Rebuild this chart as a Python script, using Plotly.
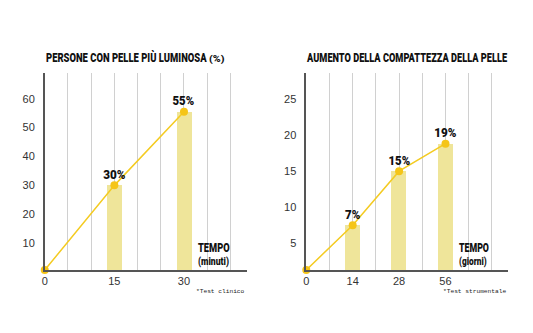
import json
import plotly.graph_objects as go

# ---- data ----
left_title = "PERSONE CON PELLE PIÙ LUMINOSA"
left_unit = "(%)"
left_minutes = [0, 15, 30]
left_values = [0.7, 30, 55.5]
left_labels = ["", "30%", "55%"]
left_xlabel = ["TEMPO", "(minuti)"]
left_note = "*Test clinico"

right_title = "AUMENTO DELLA COMPATTEZZA DELLA PELLE"
right_days = ["0", "14", "28", "56"]
right_values = [1.3, 7.5, 15, 18.8]
right_labels = ["", "7%", "15%", "19%"]
right_xlabel = ["TEMPO", "(giorni)"]
right_note = "*Test strumentale"

left_yticks = [10, 20, 30, 40, 50, 60]
right_yticks = [5, 10, 15, 20, 25]

# ---- style ----
BAR = "#EFE59A"
LINE = "#F4CB22"
MARK = "#F5C518"
AX = "#555555"
GRID = "#D0D0D0"
COND = "Roboto, Liberation Sans, sans-serif"
TICKF = dict(family="Liberation Sans, Arial, sans-serif", size=11, color="#333333")

W, H = 533, 333
def px_x(p): return p / W
def px_y(p): return (H - p) / H

fig = go.Figure()

# left chart
bar_idx_l = [i for i, l in enumerate(left_labels) if l]
fig.add_trace(go.Bar(x=[left_minutes[i] for i in bar_idx_l], y=[left_values[i] for i in bar_idx_l],
                     width=3.15, marker=dict(color=BAR, line=dict(width=0)),
                     xaxis="x", yaxis="y", hoverinfo="skip"))
fig.add_trace(go.Scatter(x=left_minutes, y=left_values, mode="lines+markers",
                         line=dict(color=LINE, width=1.5), marker=dict(color=MARK, size=8),
                         cliponaxis=False, xaxis="x", yaxis="y"))

# right chart (equally spaced categories)
right_pos = list(range(len(right_days)))
bar_idx_r = [i for i, l in enumerate(right_labels) if l]
fig.add_trace(go.Bar(x=[right_pos[i] for i in bar_idx_r], y=[right_values[i] for i in bar_idx_r],
                     width=0.32, marker=dict(color=BAR, line=dict(width=0)),
                     xaxis="x2", yaxis="y2", hoverinfo="skip"))
fig.add_trace(go.Scatter(x=right_pos, y=right_values, mode="lines+markers",
                         line=dict(color=LINE, width=1.5), marker=dict(color=MARK, size=8),
                         cliponaxis=False, xaxis="x2", yaxis="y2"))

ydom = [px_y(270), px_y(73)]
common_x = dict(showline=True, linecolor=AX, linewidth=1.5, showgrid=True, gridcolor=GRID,
                gridwidth=1, zeroline=False, ticks="", tickfont=TICKF, fixedrange=True)
common_y = dict(showline=True, linecolor=AX, linewidth=1.5, showgrid=False, zeroline=False,
                ticks="", tickfont=TICKF, ticklabelstandoff=6)

fig.update_layout(
    width=W, height=H, margin=dict(l=0, r=0, t=0, b=0),
    paper_bgcolor="white", plot_bgcolor="white", showlegend=False, bargap=0,
    xaxis=dict(domain=[px_x(42), px_x(245)], range=[0, 43.5],
               tickvals=left_minutes, ticktext=[str(m) for m in left_minutes],
               minor=dict(dtick=5, showgrid=True, gridcolor=GRID, gridwidth=1, ticks=""),
               anchor="y", **common_x),
    yaxis=dict(domain=ydom, range=[0.7, 68.9], tickvals=left_yticks, anchor="x", **common_y),
    xaxis2=dict(domain=[px_x(305), px_x(508)], range=[0, 4.35],
                tickvals=right_pos, ticktext=right_days,
                minor=dict(dtick=0.5, showgrid=True, gridcolor=GRID, gridwidth=1, ticks=""),
                anchor="y2", **common_x),
    yaxis2=dict(domain=ydom, range=[1.3, 28.6], tickvals=right_yticks, anchor="x2", **common_y),
)

ann = []
squeeze = {}  # annotation index -> target text width (px), for a condensed look

def add(a, width=None):
    if width is not None:
        squeeze[len(ann)] = width
    ann.append(a)

BOLD = dict(family=COND, color="#111", weight=900)
# value labels
for xs, ys, labs, xr, yr, ws in [
        (left_minutes, left_values, left_labels, "x", "y", [0, 22.3, 21.7]),
        (right_pos, right_values, right_labels, "x2", "y2", [0, 15.3, 21.7, 22.3])]:
    for i, l in enumerate(labs):
        if l:
            add(dict(x=xs[i], y=ys[i], xref=xr, yref=yr, text=l, showarrow=False, yshift=11,
                     font=dict(size=13, **BOLD)), ws[i])
# titles
add(dict(x=px_x(41), y=px_y(57), xref="paper", yref="paper", xanchor="left", yanchor="middle",
         align="left", text=left_title, showarrow=False, font=dict(size=13.2, **BOLD)), 160.5)
add(dict(x=px_x(205.5), y=px_y(59), xref="paper", yref="paper", xanchor="left", yanchor="middle",
         align="left", text=left_unit, showarrow=False, font=dict(size=9.8, **BOLD)), 15.5)
add(dict(x=px_x(303), y=px_y(57), xref="paper", yref="paper", xanchor="left", yanchor="middle",
         align="left", text=right_title, showarrow=False, font=dict(size=13.2, **BOLD)), 200)
# axis captions
for x0, lab, ws in [(194, left_xlabel, (31.7, 31)), (457, right_xlabel, (30, 27.7))]:
    add(dict(x=px_x(x0), y=px_y(247.5), xref="paper", yref="paper", xanchor="left", yanchor="middle",
             align="left", text=lab[0], showarrow=False, font=dict(size=13, **BOLD)), ws[0])
    add(dict(x=px_x(x0), y=px_y(261), xref="paper", yref="paper", xanchor="left", yanchor="middle",
             align="left", text=lab[1], showarrow=False, font=dict(size=10.8, **BOLD)), ws[1])
# notes
for x1, note in [(245, left_note), (508, right_note)]:
    add(dict(x=px_x(x1), y=px_y(291.5), xref="paper", yref="paper", xanchor="right", yanchor="middle",
             text=note, showarrow=False, font=dict(family="Liberation Mono, monospace", size=6.2, color="#222")))
fig.update_layout(annotations=ann)

# horizontally condense the bold captions (condensed typeface look) with an SVG scale
post = """
var W = %s;
function squeezeText(){
  document.querySelectorAll('g.annotation').forEach(function(g){
    var i = g.getAttribute('data-index');
    if (W[i] === undefined) return;
    var t = g.querySelector('text.annotation-text');
    if (!t) return;
    t.removeAttribute('transform');
    var nat = t.getComputedTextLength();
    if (!nat) return;
    var s = W[i] / nat;
    var x = parseFloat(t.getAttribute('x')) || 0;
    t.setAttribute('transform', 'matrix(' + s + ',0,0,1,' + (x * (1 - s)) + ',0)');
  });
}
squeezeText();
var gd = document.getElementById('{plot_id}');
if (gd && gd.on) gd.on('plotly_afterplot', squeezeText);
""" % json.dumps({str(k): v for k, v in squeeze.items()})

fig.write_html("out.html", post_script=post)
